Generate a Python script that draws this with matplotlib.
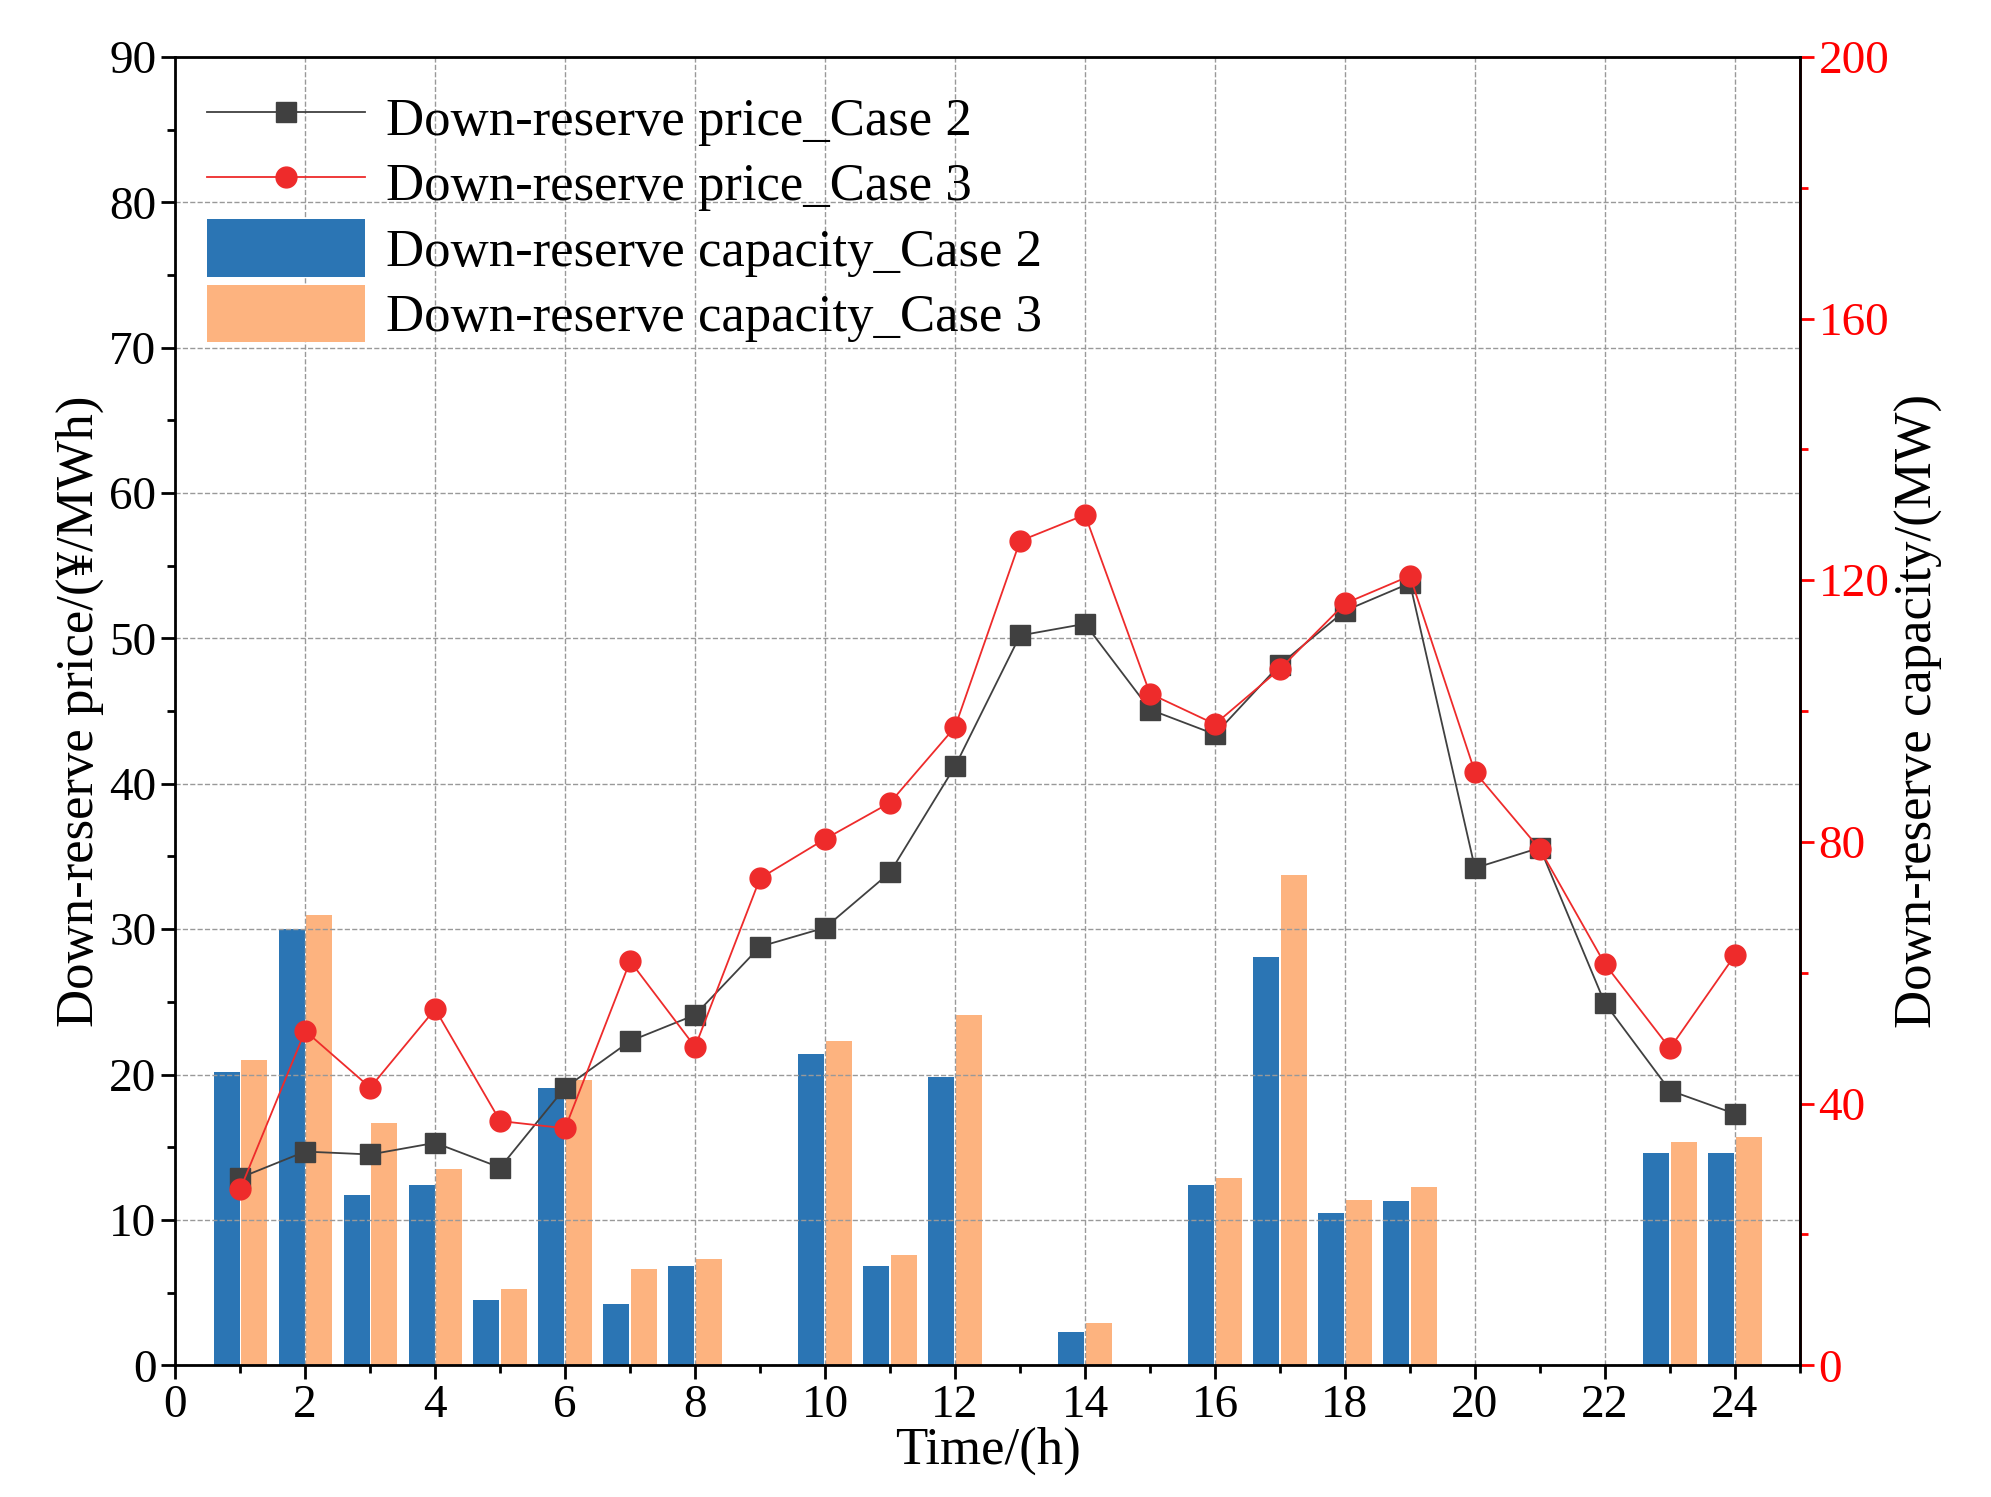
import matplotlib
matplotlib.use("Agg")
import matplotlib.pyplot as plt
import numpy as np
from matplotlib.ticker import MultipleLocator

plt.rcParams['font.family'] = 'Liberation Serif'

hours = list(range(1, 25))
price_c2 = [12.9, 14.7, 14.5, 15.3, 13.6, 19.1, 22.3, 24.1, 28.8, 30.1, 33.9, 41.2, 50.2, 51.0, 45.1, 43.4, 48.2, 51.9, 53.8, 34.2, 35.6, 24.9, 18.9, 17.3]
price_c3 = [12.1, 23.0, 19.1, 24.5, 16.8, 16.3, 27.8, 21.9, 33.5, 36.2, 38.7, 43.9, 56.7, 58.5, 46.2, 44.1, 47.9, 52.4, 54.3, 40.8, 35.5, 27.6, 21.8, 28.2]
cap_c2 = [44.9, 66.7, 26.0, 27.6, 10.0, 42.4, 9.3, 15.1, 0, 47.6, 15.1, 44.0, 0, 5.1, 0, 27.6, 62.4, 23.3, 25.1, 0, 0, 0, 32.4, 32.4]
cap_c3 = [46.7, 68.9, 37.1, 30.0, 11.6, 43.6, 14.7, 16.2, 0, 49.6, 16.9, 53.6, 0, 6.4, 0, 28.7, 74.9, 25.3, 27.3, 0, 0, 0, 34.2, 34.9]

fig = plt.figure(figsize=(19.91, 14.97), dpi=100)
ax = fig.add_axes([0.088, 0.088, 0.816, 0.874])
ax2 = ax.twinx()
x = np.array(hours)
w = 0.4
ax2.bar(x - w/2 - 0.01, cap_c2, w, color='#2b75b4', label='Down-reserve capacity_Case 2')
ax2.bar(x + w/2 + 0.01, cap_c3, w, color='#fdb37f', label='Down-reserve capacity_Case 3')
ax.set_zorder(ax2.get_zorder() + 1)
ax.patch.set_visible(False)
ax.plot(x, price_c2, color='#404040', marker='s', markersize=15, lw=1.3, label='Down-reserve price_Case 2')
ax.plot(x, price_c3, color='#ee2b2b', marker='o', markersize=15, lw=1.3, label='Down-reserve price_Case 3')

ax.set_xlim(0, 25)
ax.set_ylim(0, 90)
ax2.set_ylim(0, 200)
ax.xaxis.set_major_locator(MultipleLocator(2))
ax.xaxis.set_minor_locator(MultipleLocator(1))
ax.yaxis.set_major_locator(MultipleLocator(10))
ax.yaxis.set_minor_locator(MultipleLocator(5))
ax2.yaxis.set_major_locator(MultipleLocator(40))
ax2.yaxis.set_minor_locator(MultipleLocator(20))
ax.grid(True, which='major', ls='--', color='#999999', lw=1)

for a in (ax, ax2):
    a.tick_params(which='major', direction='out', length=10, width=2, labelsize=34)
    a.tick_params(which='minor', direction='out', length=6, width=2)
for s in ax.spines.values():
    s.set_linewidth(2)
ax2.spines['right'].set_color('red')
ax2.spines['right'].set_linewidth(2)
ax2.tick_params(axis='y', colors='red', which='both')
ax2.spines['left'].set_visible(False)

ax.set_xlabel('Time/(h)', fontsize=38, labelpad=0)
ax.set_ylabel('Down-reserve price/(¥/MWh)', fontsize=38)
ax2.set_ylabel('Down-reserve capacity/(MW)', fontsize=38, color='black', labelpad=4)

h1, l1 = ax.get_legend_handles_labels()
h2, l2 = ax2.get_legend_handles_labels()
ax.legend(h1 + h2, l1 + l2, loc='upper left', fontsize=38, frameon=False,
          handlelength=3.0, handleheight=1.3, labelspacing=0.15, borderaxespad=0.2,
          handletextpad=0.4)

fig.savefig('out.png', dpi=100)
